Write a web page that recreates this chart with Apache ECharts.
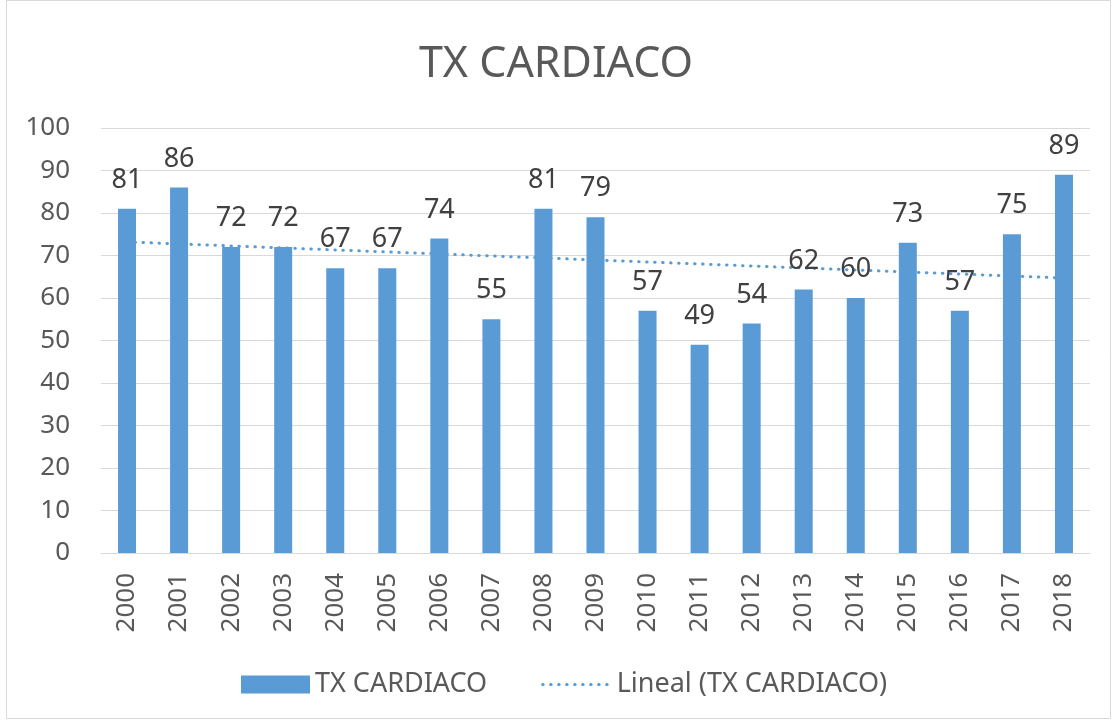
<!DOCTYPE html>
<html>
<head>
<meta charset="utf-8">
<script src="https://cdn.jsdelivr.net/npm/echarts@6/dist/echarts.min.js"></script>
<style>
  html, body { margin: 0; padding: 0; background: #fff; }
  #chart { width: 1112px; height: 720px; }
</style>
</head>
<body>
<div id="chart"></div>
<script>
(function() {
    const years = ['2000','2001','2002','2003','2004','2005','2006','2007','2008','2009',
                   '2010','2011','2012','2013','2014','2015','2016','2017','2018'];
    const values = [81, 86, 72, 72, 67, 67, 74, 55, 81, 79, 57, 49, 54, 62, 60, 73, 57, 75, 89];
    // trend line endpoints (2000 and 2018)
    const trendYears = ['2000', '2018'];
    const trendValues = [73.2, 64.7];
    const yTicks = { min: 0, max: 100, interval: 10 };

    const font = 'Noto Sans';
    const textColor = '#595959';
    const barColor = '#5B9BD5';
    const dotted = { color: barColor, width: 3, type: [0.5, 7.5], cap: 'round' };

    const myChart = echarts.init(document.getElementById('chart'), null, { renderer: 'canvas' });

    const option = {
        backgroundColor: '#ffffff',
        animation: false,
        textStyle: { fontFamily: font },
        graphic: [{
            type: 'rect',
            shape: { x: 6.5, y: 0.5, width: 1104, height: 718 },
            style: { fill: 'none', stroke: '#d9d9d9', lineWidth: 1 },
            silent: true
        }],
        title: {
            text: 'TX CARDIACO',
            left: 'center',
            top: 38,
            textStyle: { fontFamily: font, fontSize: 43, fontWeight: 'normal', color: textColor }
        },
        legend: {
            bottom: 17,
            left: 236,
            itemGap: 54,
            itemWidth: 69,
            itemHeight: 18,
            textStyle: { fontFamily: font, fontSize: 27, color: textColor },
            data: [
                { name: 'TX CARDIACO', icon: 'rect' },
                { name: 'Lineal (TX CARDIACO)', itemStyle: { opacity: 0 }, lineStyle: dotted }
            ]
        },
        grid: { left: 101, right: 22, top: 128, bottom: 167 },
        xAxis: [{
            type: 'category',
            data: years,
            axisLine: { lineStyle: { color: '#d9d9d9', width: 1 } },
            axisTick: { show: false },
            axisLabel: { rotate: 90, color: textColor, fontSize: 26, fontFamily: font, margin: 20 }
        }],
        yAxis: [{
            type: 'value',
            min: yTicks.min,
            max: yTicks.max,
            interval: yTicks.interval,
            axisLine: { show: false },
            axisTick: { show: false },
            axisLabel: { color: textColor, fontSize: 26, fontFamily: font, margin: 31 },
            splitLine: { lineStyle: { color: '#d9d9d9', width: 1 } }
        }],
        series: [
            {
                name: 'TX CARDIACO',
                type: 'bar',
                data: values,
                barWidth: 18,
                itemStyle: { color: barColor },
                label: {
                    show: true,
                    position: 'top',
                    distance: 15,
                    color: '#404040',
                    fontSize: 27,
                    fontFamily: font
                }
            },
            {
                name: 'Lineal (TX CARDIACO)',
                type: 'line',
                data: trendYears.map((y, i) => [y, trendValues[i]]),
                symbol: 'none',
                z: 1,
                lineStyle: dotted,
                itemStyle: { color: barColor }
            }
        ]
    };

    myChart.setOption(option);
})();
</script>
</body>
</html>
